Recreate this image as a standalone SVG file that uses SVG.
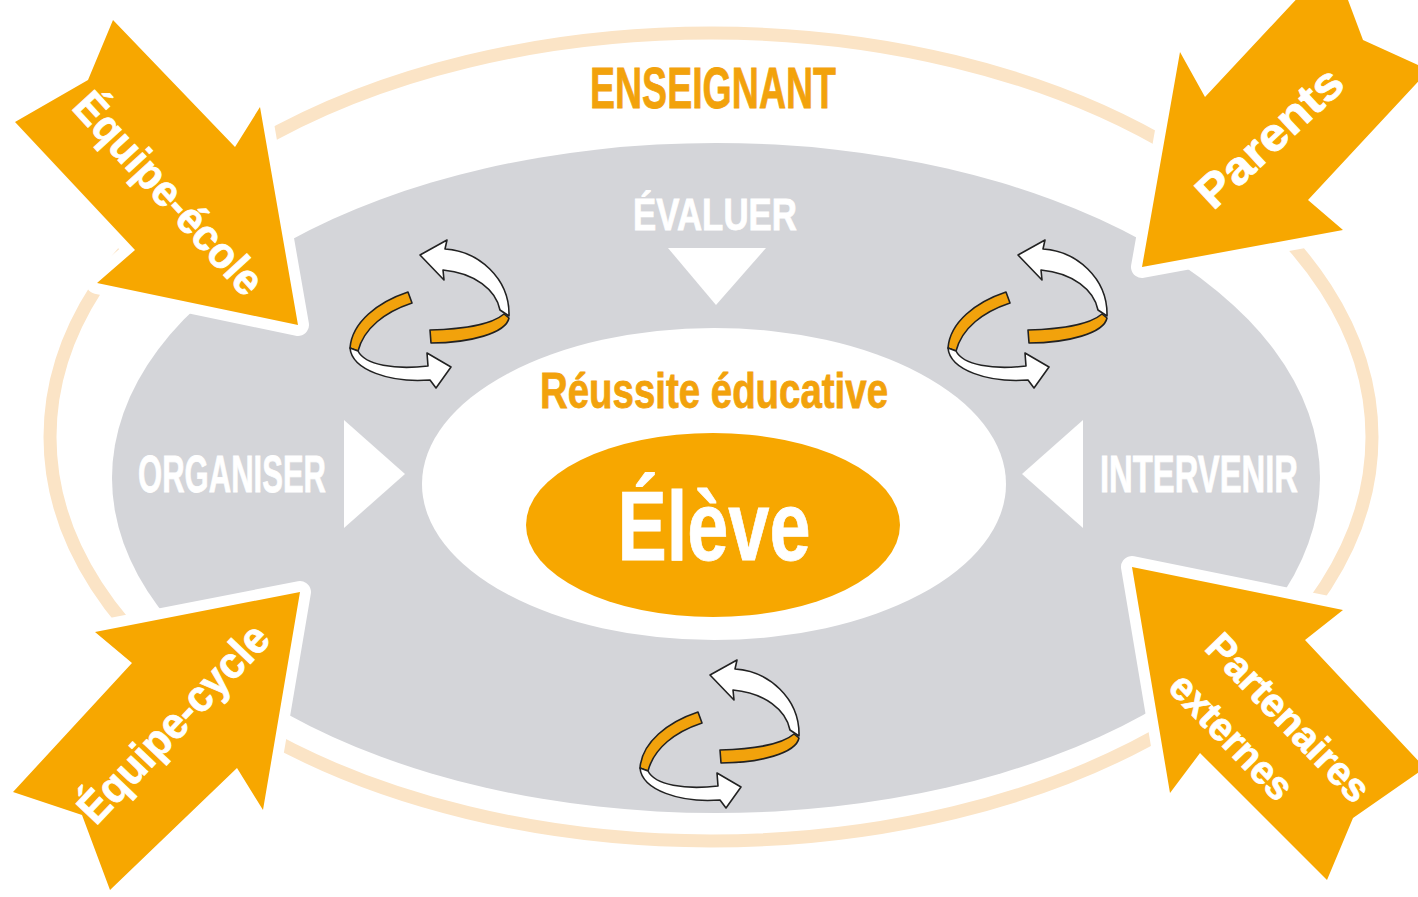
<svg xmlns="http://www.w3.org/2000/svg" xmlns:xlink="http://www.w3.org/1999/xlink" width="1418" height="897" viewBox="0 0 1418 897">
<style>
.t{font-family:"Liberation Sans",Arial,sans-serif;font-weight:bold;text-anchor:middle}
.w{fill:#ffffff;stroke:#ffffff;stroke-width:0.8}
.o{fill:#f2a20c;stroke:#f2a20c;stroke-width:0.8}
.tri{fill:#ffffff}
.arrow{fill:#f7a700;stroke:#ffffff;stroke-width:22;stroke-linejoin:round;paint-order:stroke}
.cw{fill:#ffffff;stroke:#222;stroke-width:1.6;stroke-linejoin:round}
.co{fill:#f2a20c;stroke:#222;stroke-width:1.6;stroke-linejoin:round}
</style>
<defs>
<g id="cycle">
<path class="co" d="M100,100 C130,99 160,96 174,84 L179,88 C176,103 140,113 101,113 Z"/>
<path class="cw" d="M90,25 L117,10 L115,19 C148,21 180,48 179,86 L170,80 C166,60 145,43 113,40 L114,50 Z"/>
<path class="co" d="M78,62 L82,73 C55,82 34,98 28,121 L20,118 C22,92 48,72 78,62 Z"/>
<path class="cw" d="M20,118 C22,140 60,153 100,150 L106,158 L121,137 L97,123 L98,136 C65,140 35,135 28,121 Z"/>
</g>
</defs>
<rect width="1418" height="897" fill="#ffffff"/>
<g id="ring">
<ellipse cx="711" cy="437" rx="661" ry="404" fill="none" stroke="#fbe4c6" stroke-width="13"/>
</g>
<g id="enseignant">
<text class="t o" x="713" y="108" font-size="57" textLength="246" lengthAdjust="spacingAndGlyphs">ENSEIGNANT</text>
</g>
<g id="gray-band">
<ellipse cx="716" cy="478" rx="604" ry="335" fill="#d4d5d9"/>
</g>
<g id="evaluer">
<text class="t w" x="715" y="230" font-size="44" textLength="164" lengthAdjust="spacingAndGlyphs">ÉVALUER</text>
<polygon class="tri" points="668,248 766,248 716,305"/>
</g>
<g id="organiser">
<text class="t w" x="232" y="492" font-size="52" textLength="188" lengthAdjust="spacingAndGlyphs">ORGANISER</text>
<polygon class="tri" points="344,420 344,528 405,474"/>
</g>
<g id="intervenir">
<text class="t w" x="1199" y="492" font-size="52" textLength="198" lengthAdjust="spacingAndGlyphs">INTERVENIR</text>
<polygon class="tri" points="1083,420 1083,528 1022,474"/>
</g>
<g id="reussite">
<ellipse cx="714" cy="484" rx="292" ry="156" fill="#ffffff"/>
<text class="t o" x="714" y="408" font-size="50" textLength="348" lengthAdjust="spacingAndGlyphs">Réussite éducative</text>
</g>
<g id="eleve">
<ellipse cx="713" cy="525" rx="187" ry="92" fill="#f7a700"/>
<text class="t w" x="714" y="560" font-size="99" textLength="193" lengthAdjust="spacingAndGlyphs">Élève</text>
</g>
<g id="connectors">
<use xlink:href="#cycle" transform="translate(330,230)"/>
<use xlink:href="#cycle" transform="translate(928,230)"/>
<use xlink:href="#cycle" transform="translate(620,650)"/>
</g>
<g id="equipe-ecole">
<polygon class="arrow" points="113,20 235,147 260,107 298,325 97,283 135,250 15,122 88,80"/>
<text class="t w" transform="translate(168,194) rotate(47.5)" y="14" font-size="44" textLength="258" lengthAdjust="spacingAndGlyphs">Équipe-école</text>
</g>
<g id="parents">
<polygon class="arrow" points="1142,267 1180,52 1205,97 1333,-40 1363,40 1429,70 1308,200 1343,230"/>
<text class="t w" transform="translate(1270,138) rotate(-43)" y="15" font-size="46" textLength="183" lengthAdjust="spacingAndGlyphs">Parents</text>
</g>
<g id="equipe-cycle">
<polygon class="arrow" points="300,592 263,810 237,768 110,890 82,815 13,792 132,663 95,632"/>
<text class="t w" transform="translate(174,724) rotate(-46.5)" y="14" font-size="44" textLength="256" lengthAdjust="spacingAndGlyphs">Équipe-cycle</text>
</g>
<g id="partenaires">
<polygon class="arrow" points="1132,567 1343,610 1305,640 1425,768 1353,818 1327,880 1200,753 1170,793"/>
<text class="t w" transform="translate(1288,718) rotate(46)" y="13" font-size="40" textLength="217" lengthAdjust="spacingAndGlyphs">Partenaires</text>
<text class="t w" transform="translate(1231,737) rotate(46)" y="13" font-size="40" textLength="159" lengthAdjust="spacingAndGlyphs">externes</text>
</g>
</svg>
